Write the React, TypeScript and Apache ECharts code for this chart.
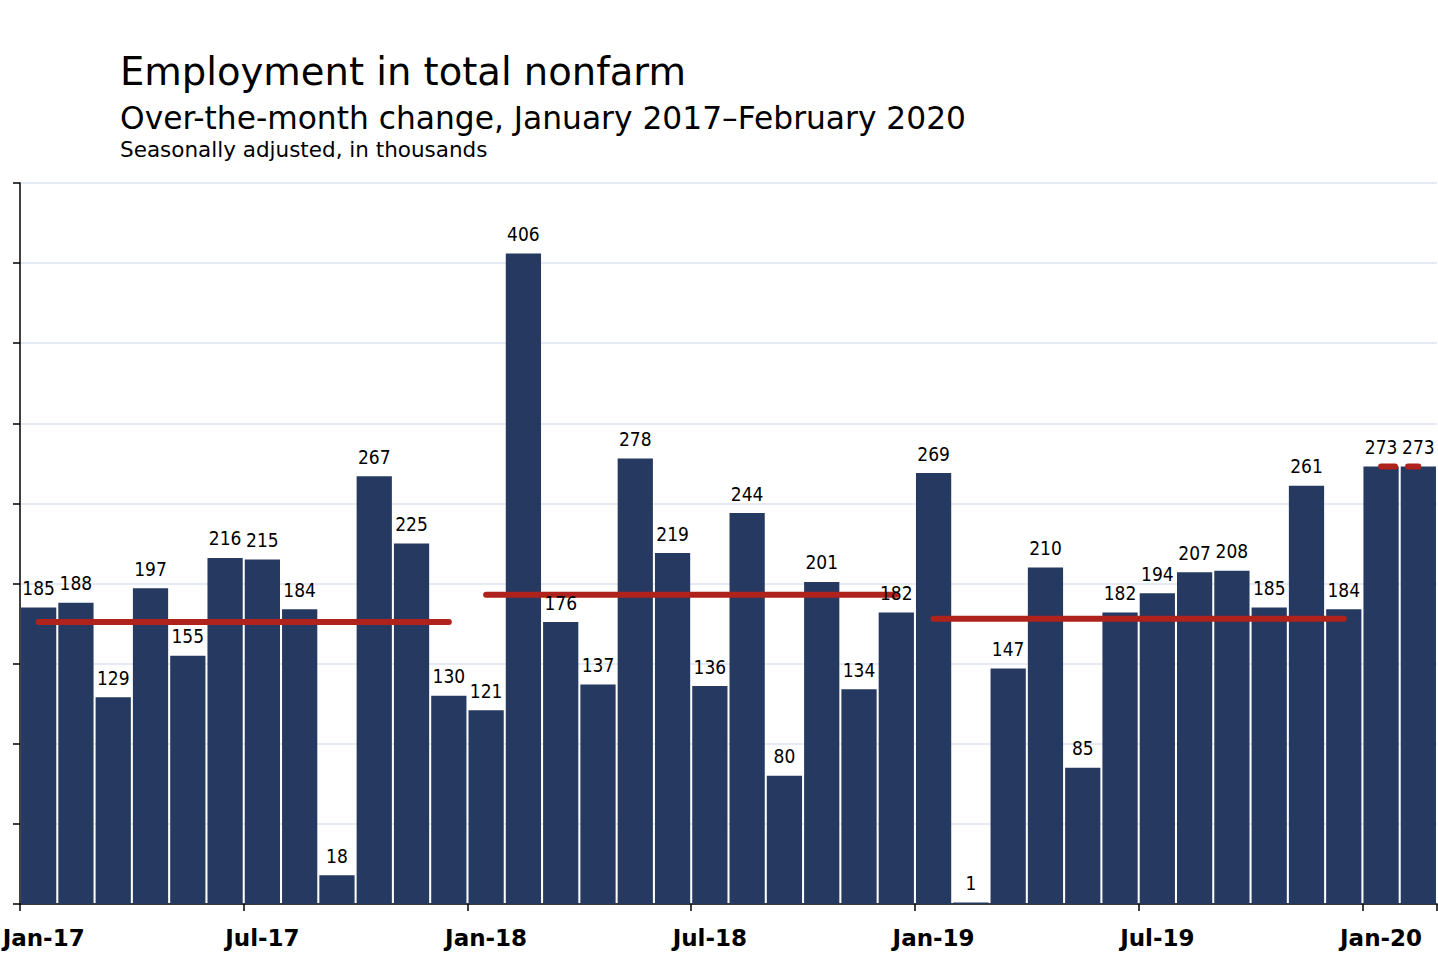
import React, { useEffect, useRef } from "react";
import * as echarts from "echarts";

const CATEGORIES = [
  "Jan-17", "Feb-17", "Mar-17", "Apr-17", "May-17", "Jun-17", "Jul-17", "Aug-17", "Sep-17", "Oct-17", "Nov-17", "Dec-17",
  "Jan-18", "Feb-18", "Mar-18", "Apr-18", "May-18", "Jun-18", "Jul-18", "Aug-18", "Sep-18", "Oct-18", "Nov-18", "Dec-18",
  "Jan-19", "Feb-19", "Mar-19", "Apr-19", "May-19", "Jun-19", "Jul-19", "Aug-19", "Sep-19", "Oct-19", "Nov-19", "Dec-19",
  "Jan-20", "Feb-20",
];

const VALUES_2017 = [185, 188, 129, 197, 155, 216, 215, 184, 18, 267, 225, 130];
const VALUES_2018 = [121, 406, 176, 137, 278, 219, 136, 244, 80, 201, 134, 182];
const VALUES_2019 = [269, 1, 147, 210, 85, 182, 194, 207, 208, 185, 261, 184];
const VALUES_2020 = [273, 273];

const YEAR_GROUPS = [VALUES_2017, VALUES_2018, VALUES_2019, VALUES_2020];
// Annual averages
const YEAR_AVERAGES = [176, 193, 178, 273];

const Y_MIN = 0;
const Y_MAX = 450;
const Y_INTERVAL = 50;

const TITLE = "Employment in total nonfarm";
const SUBTITLE = "Over-the-month change, January 2017\u2013February 2020";
const NOTE = "Seasonally adjusted, in thousands";

const BAR_COLOR = "#253961";
const AVG_COLOR = "#B0221C";
const FONT = '"DejaVu Sans", Verdana, sans-serif';
const LABEL_FONT = '"DejaVu Sans Condensed", "DejaVu Sans", sans-serif';

export default function App() {
  const ref = useRef<HTMLDivElement>(null);

  useEffect(() => {
    if (!ref.current) return;
    const chart = echarts.init(ref.current, undefined, { renderer: "svg" });

    const values: number[] = ([] as number[]).concat(...YEAR_GROUPS);
    const total = values.length;

    const avgSeries: any[] = [];
    let start = 0;
    YEAR_GROUPS.forEach((grp, gi) => {
      const data: (number | string)[] = [];
      for (let i = 0; i < total; i++) {
        data.push(i >= start && i < start + grp.length ? YEAR_AVERAGES[gi] : "-");
      }
      const dashed = gi === YEAR_GROUPS.length - 1;
      avgSeries.push({
        type: "line",
        name: "avg" + gi,
        data,
        symbol: "none",
        silent: true,
        z: 4,
        lineStyle: {
          color: AVG_COLOR,
          width: 6,
          cap: "round",
          type: dashed ? [14, 13] : "solid",
        },
      });
      start += grp.length;
    });

    const axisLabelText = {
      color: "#000",
      fontFamily: FONT,
      fontWeight: "bold" as const,
      fontSize: 23,
    };

    chart.setOption({
      animation: false,
      backgroundColor: "#ffffff",
      grid: {
        left: 20,
        right: 1,
        top: 183,
        bottom: 76,
        containLabel: false,
        outerBoundsMode: "none",
      },
      graphic: [
        {
          type: "text",
          x: 120,
          y: 71,
          style: { text: TITLE, font: `38.5px ${FONT}`, fill: "#000", verticalAlign: "middle" },
        },
        {
          type: "text",
          x: 120,
          y: 118,
          style: { text: SUBTITLE, font: `31.3px ${FONT}`, fill: "#000", verticalAlign: "middle" },
        },
        {
          type: "text",
          x: 120,
          y: 149,
          style: { text: NOTE, font: `21.5px ${FONT}`, fill: "#000", verticalAlign: "middle" },
        },
      ],
      xAxis: {
        type: "category",
        data: CATEGORIES,
        boundaryGap: true,
        axisLine: { show: true, lineStyle: { color: "#000", width: 1.5 } },
        axisTick: { show: true, interval: 5, length: 7, alignWithLabel: false, lineStyle: { color: "#000", width: 1.5 } },
        axisLabel: {
          interval: 5,
          ...axisLabelText,
          margin: 22,
          formatter: (v: string, idx: number) => (idx === 0 ? `{first|${v}}` : v),
          rich: {
            first: { ...axisLabelText, padding: [0, 0, 0, 10] },
          },
        },
        splitLine: { show: false },
      },
      yAxis: {
        type: "value",
        min: Y_MIN,
        max: Y_MAX,
        interval: Y_INTERVAL,
        axisLabel: { show: false },
        axisLine: { show: true, lineStyle: { color: "#000", width: 1.5 } },
        axisTick: { show: true, length: 7, lineStyle: { color: "#000", width: 1.5 } },
        splitLine: { show: true, lineStyle: { color: "#DCE3F0", width: 1.5 } },
      },
      series: [
        {
          type: "bar",
          name: "Employment",
          data: values,
          barCategoryGap: "5.5%",
          barGap: "-100%",
          z: 2,
          itemStyle: { color: BAR_COLOR },
          silent: true,
        },
        ...avgSeries,
        {
          type: "bar",
          name: "labels",
          data: values,
          barCategoryGap: "5.5%",
          barGap: "-100%",
          z: 6,
          silent: true,
          itemStyle: { color: "rgba(0,0,0,0)" },
          label: {
            show: true,
            position: "top",
            distance: 10,
            color: "#000",
            fontFamily: LABEL_FONT,
            fontSize: 19,
          },
        },
      ],
    });

    return () => chart.dispose();
  }, []);

  return (
    <div
      ref={ref}
      style={{ position: "fixed", left: 0, top: 0, width: 1438, height: 980, background: "#fff" }}
    />
  );
}
